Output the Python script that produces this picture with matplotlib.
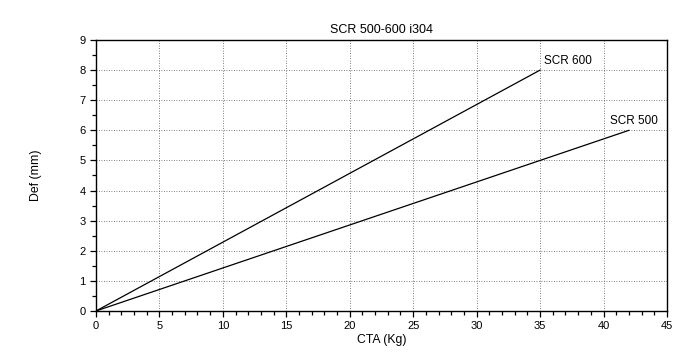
import matplotlib
matplotlib.use("Agg")
import matplotlib.pyplot as plt
from matplotlib.ticker import MultipleLocator

plt.rcParams['font.family'] = ['Liberation Sans', 'DejaVu Sans']

# data
cta_600 = [0, 35]
def_600 = [0, 8]
cta_500 = [0, 42]
def_500 = [0, 6]

fig = plt.figure(figsize=(6.73, 3.54), dpi=100)
ax = fig.add_axes([0.1426, 0.1215, 0.8484, 0.7655])

ax.plot(cta_600, def_600, color='black', lw=0.9)
ax.plot(cta_500, def_500, color='black', lw=0.9)
ax.text(35.3, 8.1, 'SCR 600', fontsize=8.5, ha='left', va='bottom')
ax.text(42.4, 6.1, 'SCR 500', fontsize=8.5, ha='center', va='bottom')

ax.set_xlim(0, 45)
ax.set_ylim(0, 9)
ax.xaxis.set_major_locator(MultipleLocator(5))
ax.xaxis.set_minor_locator(MultipleLocator(1))
ax.yaxis.set_major_locator(MultipleLocator(1))
ax.yaxis.set_minor_locator(MultipleLocator(0.5))
ax.tick_params(which='both', direction='out', labelsize=8, width=0.9)
ax.tick_params(which='major', length=4)
ax.tick_params(which='minor', length=3)
ax.grid(True, which='major', linestyle=(0, (1, 2)), color='#555555', lw=0.6)
for s in ax.spines.values():
    s.set_linewidth(1.0)

ax.set_title('SCR 500-600 i304', fontsize=9, pad=5)
ax.set_xlabel('CTA (Kg)', fontsize=8.8, labelpad=2)
ax.set_ylabel('Def (mm)', fontsize=8.8, labelpad=27)

fig.savefig('out.png', dpi=100)
